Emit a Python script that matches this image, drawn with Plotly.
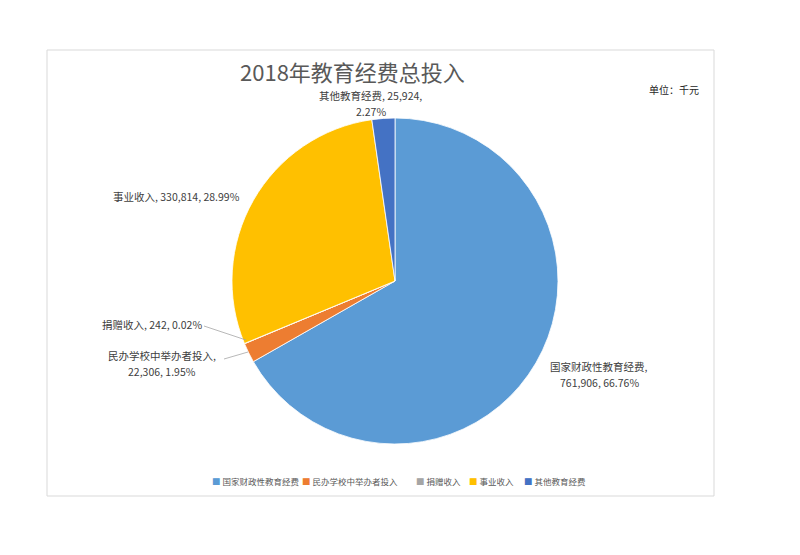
import plotly.graph_objects as go

categories = ["国家财政性教育经费", "民办学校中举办者投入", "捐赠收入", "事业收入", "其他教育经费"]
values = [761906, 22306, 242, 330814, 25924]
colors = ["#5B9BD5", "#ED7D31", "#A5A5A5", "#FFC000", "#4472C4"]
title_text = "2018年教育经费总投入"
unit_text = "单位：千元"

W, H = 800, 555
OFF = 8  # page body margin offset
FONT = "Noto Sans CJK SC, Noto Sans, sans-serif"

def px(x):
    return (x - OFF) / W

def py(y):
    return 1 - (y - OFF) / H

total = sum(values)
pcts = [v / total * 100 for v in values]

cx, cy, r = 395, 281, 163

fig = go.Figure(go.Pie(
    labels=categories,
    values=values,
    marker=dict(colors=colors, line=dict(color="white", width=0.8)),
    sort=False,
    direction="clockwise",
    rotation=0,
    textinfo="none",
    hoverinfo="label+value+percent",
    domain=dict(x=[px(cx - r), px(cx + r)], y=[py(cy + r), py(cy - r)]),
    showlegend=False,
))

# label layout per slice: list of (x_px, y_px, xanchor, line_kind)
label_layout = [
    [(599, 366, "center", "name,"), (599, 382, "center", "v, p")],
    [(162, 355, "center", "name,"), (162, 371, "center", "v, p")],
    [(152, 324, "center", "name, v, p")],
    [(242, 196, "right", "name, v, p")],
    [(370, 96, "center", "name, v,"), (371, 111, "center", "p")],
]

annotations = []
for i, lines in enumerate(label_layout):
    name = categories[i]
    v = f"{values[i]:,}"
    p = f"{pcts[i]:.2f}%"
    parts = {
        "name,": f"{name},",
        "v, p": f"{v}, {p}",
        "name, v, p": f"{name}, {v}, {p}",
        "name, v,": f"{name}, {v},",
        "p": p,
    }
    for (lx, ly, xa, kind) in lines:
        annotations.append(dict(
            x=px(lx), y=py(ly), xref="paper", yref="paper", text=parts[kind],
            showarrow=False, xanchor=xa, yanchor="middle",
            font=dict(family=FONT, size=10.5, color="#404040"),
        ))

annotations.append(dict(
    x=px(352), y=py(71), xref="paper", yref="paper", text=title_text,
    showarrow=False, xanchor="center", yanchor="middle",
    font=dict(family=FONT, size=22, color="#595959"),
))
annotations.append(dict(
    x=px(674), y=py(89), xref="paper", yref="paper", text=unit_text,
    showarrow=False, xanchor="center", yanchor="middle",
    font=dict(family=FONT, size=10, color="#262626"),
))

# manual legend (tight spacing like the reference)
legend_x = [210, 300, 414, 467, 522]
for i, name in enumerate(categories):
    annotations.append(dict(
        x=px(legend_x[i]), y=py(481), xref="paper", yref="paper",
        text=f"<span style='color:{colors[i]}'>■</span> {name}",
        showarrow=False, xanchor="left", yanchor="middle",
        font=dict(family=FONT, size=8.5, color="#595959"),
    ))

shapes = [
    dict(type="rect", xref="paper", yref="paper", x0=px(47), x1=px(714),
         y0=py(496), y1=py(50), line=dict(color="#D9D9D9", width=1), layer="below"),
    dict(type="line", xref="paper", yref="paper", x0=px(204), y0=py(326),
         x1=px(246), y1=py(340), line=dict(color="#A6A6A6", width=0.8)),
    dict(type="line", xref="paper", yref="paper", x0=px(224), y0=py(359),
         x1=px(248), y1=py(352), line=dict(color="#A6A6A6", width=0.8)),
]

fig.update_layout(
    width=W, height=H,
    margin=dict(l=0, r=0, t=0, b=0),
    paper_bgcolor="white",
    plot_bgcolor="white",
    font=dict(family=FONT, color="#595959"),
    annotations=annotations,
    shapes=shapes,
    showlegend=False,
)

fig.write_html("out.html")
